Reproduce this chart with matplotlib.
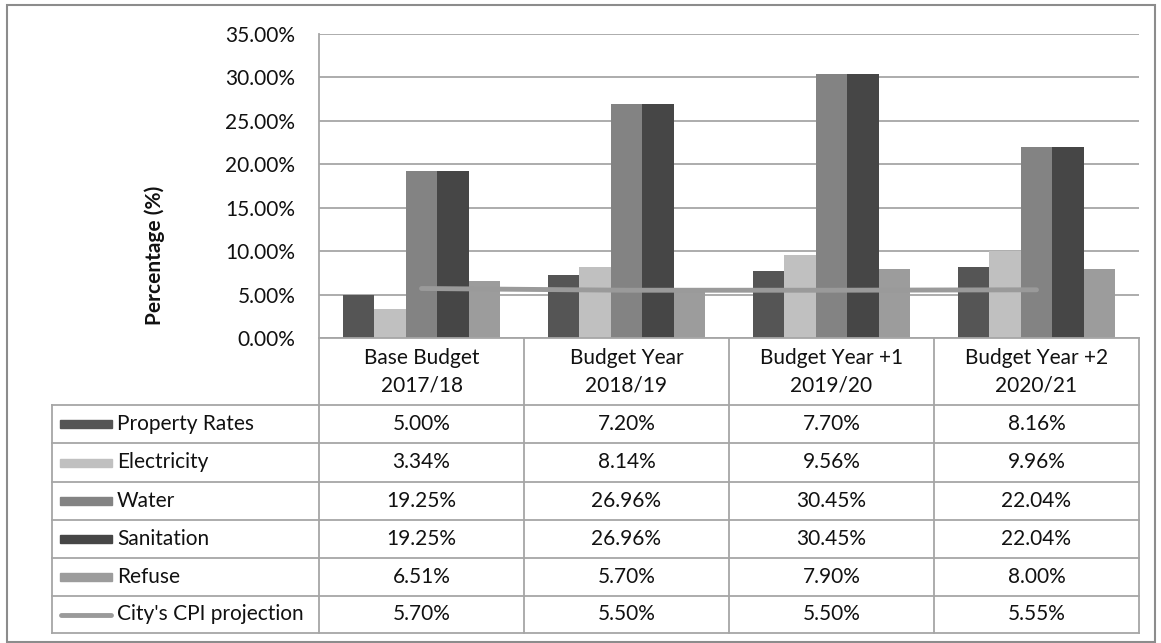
import matplotlib.pyplot as plt
from matplotlib.patches import Rectangle
from matplotlib.lines import Line2D

# data
categories = ['Base Budget\n2017/18', 'Budget Year\n2018/19',
              'Budget Year +1\n2019/20', 'Budget Year +2\n2020/21']
series_names = ['Property Rates', 'Electricity', 'Water', 'Sanitation', 'Refuse']
property_rates = [5.00, 7.20, 7.70, 8.16]
electricity = [3.34, 8.14, 9.56, 9.96]
water = [19.25, 26.96, 30.45, 22.04]
sanitation = [19.25, 26.96, 30.45, 22.04]
refuse = [6.51, 5.70, 7.90, 8.00]
cpi_name = "City's CPI projection"
cpi = [5.70, 5.50, 5.50, 5.55]

bar_colors = ['#555555', '#c0c0c0', '#838383', '#464646', '#9c9c9c']
cpi_color = '#9a9a9a'
grid_color = '#a6a6a6'
txt_color = '#111111'
fs = 15

W, H = 1161, 643
plt.rcParams['font.family'] = ['Lato', 'DejaVu Sans']

fig = plt.figure(figsize=(W / 100, H / 100), dpi=100)


def fx(px):
    return px / W


def fy(py):
    return 1 - py / H


# plot area in pixels
left, right, top, bottom = 319, 1139, 34, 338
ax = fig.add_axes([fx(left), fy(bottom), fx(right - left), (bottom - top) / H])

all_series = [property_rates, electricity, water, sanitation, refuse]
bw = 0.153
n = len(all_series)
xs = list(range(len(categories)))
for i, vals in enumerate(all_series):
    off = (i - (n - 1) / 2) * bw
    ax.bar([x + off for x in xs], vals, width=bw, color=bar_colors[i], zorder=2)

ax.plot(xs, cpi, color=cpi_color, lw=3.5, solid_capstyle='round', zorder=3)

ax.set_xlim(-0.5, len(categories) - 0.5)
ax.set_ylim(0, 35)
ax.set_yticks(range(0, 36, 5))
ax.set_yticklabels([f'{v:.2f}%' for v in range(0, 36, 5)], fontsize=fs, color=txt_color)
ax.set_xticks([])
ax.tick_params(axis='y', length=0, pad=17)
ax.grid(axis='y', color=grid_color, lw=1.3, zorder=0)
for s in ['top', 'right', 'bottom']:
    ax.spines[s].set_visible(False)
ax.spines['left'].set_color(grid_color)
ax.spines['left'].set_linewidth(1.3)

fig.text(fx(155), fy(255), 'Percentage (%)', rotation=90, ha='center', va='center',
         fontsize=fs, fontweight='bold', color=txt_color)

# data table underneath
col_edges = [left + k * (right - left) / 4 for k in range(5)]
row_edges = [405, 443, 482, 520, 558, 596, 633]
tbl_left = 52
lkw = dict(color=grid_color, lw=1.3, transform=fig.transFigure)

# header row
fig.add_artist(Line2D([fx(left), fx(right)], [fy(bottom), fy(bottom)], **lkw))
for cx in col_edges:
    fig.add_artist(Line2D([fx(cx), fx(cx)], [fy(bottom), fy(row_edges[-1])], **lkw))
for i, c in enumerate(categories):
    fig.text(fx((col_edges[i] + col_edges[i + 1]) / 2), fy((bottom + row_edges[0]) / 2), c,
             ha='center', va='center', fontsize=fs, linespacing=1.45, color=txt_color)

# body rows
for ry in row_edges:
    fig.add_artist(Line2D([fx(tbl_left), fx(right)], [fy(ry), fy(ry)], **lkw))
fig.add_artist(Line2D([fx(tbl_left), fx(tbl_left)], [fy(row_edges[0]), fy(row_edges[-1])], **lkw))

row_names = series_names + [cpi_name]
row_vals = all_series + [cpi]
for r, (name, vals) in enumerate(zip(row_names, row_vals)):
    yc = (row_edges[r] + row_edges[r + 1]) / 2
    if r < len(series_names):
        fig.add_artist(Rectangle((fx(60), fy(yc + 4)), fx(52), 8 / H,
                                 color=bar_colors[r], transform=fig.transFigure))
    else:
        fig.add_artist(Line2D([fx(61), fx(111)], [fy(yc), fy(yc)], color=cpi_color, lw=3.5,
                              solid_capstyle='round', transform=fig.transFigure))
    fig.text(fx(117), fy(yc), name, ha='left', va='center', fontsize=fs, color=txt_color)
    for i, v in enumerate(vals):
        fig.text(fx((col_edges[i] + col_edges[i + 1]) / 2), fy(yc), f'{v:.2f}%',
                 ha='center', va='center', fontsize=fs, color=txt_color)

# outer chart frame
fig.add_artist(Rectangle((fx(7), fy(642)), fx(1148), (642 - 5) / H, fill=False,
                         edgecolor='#8c8c8c', lw=1.5, transform=fig.transFigure))

fig.savefig('out.png', dpi=100)
